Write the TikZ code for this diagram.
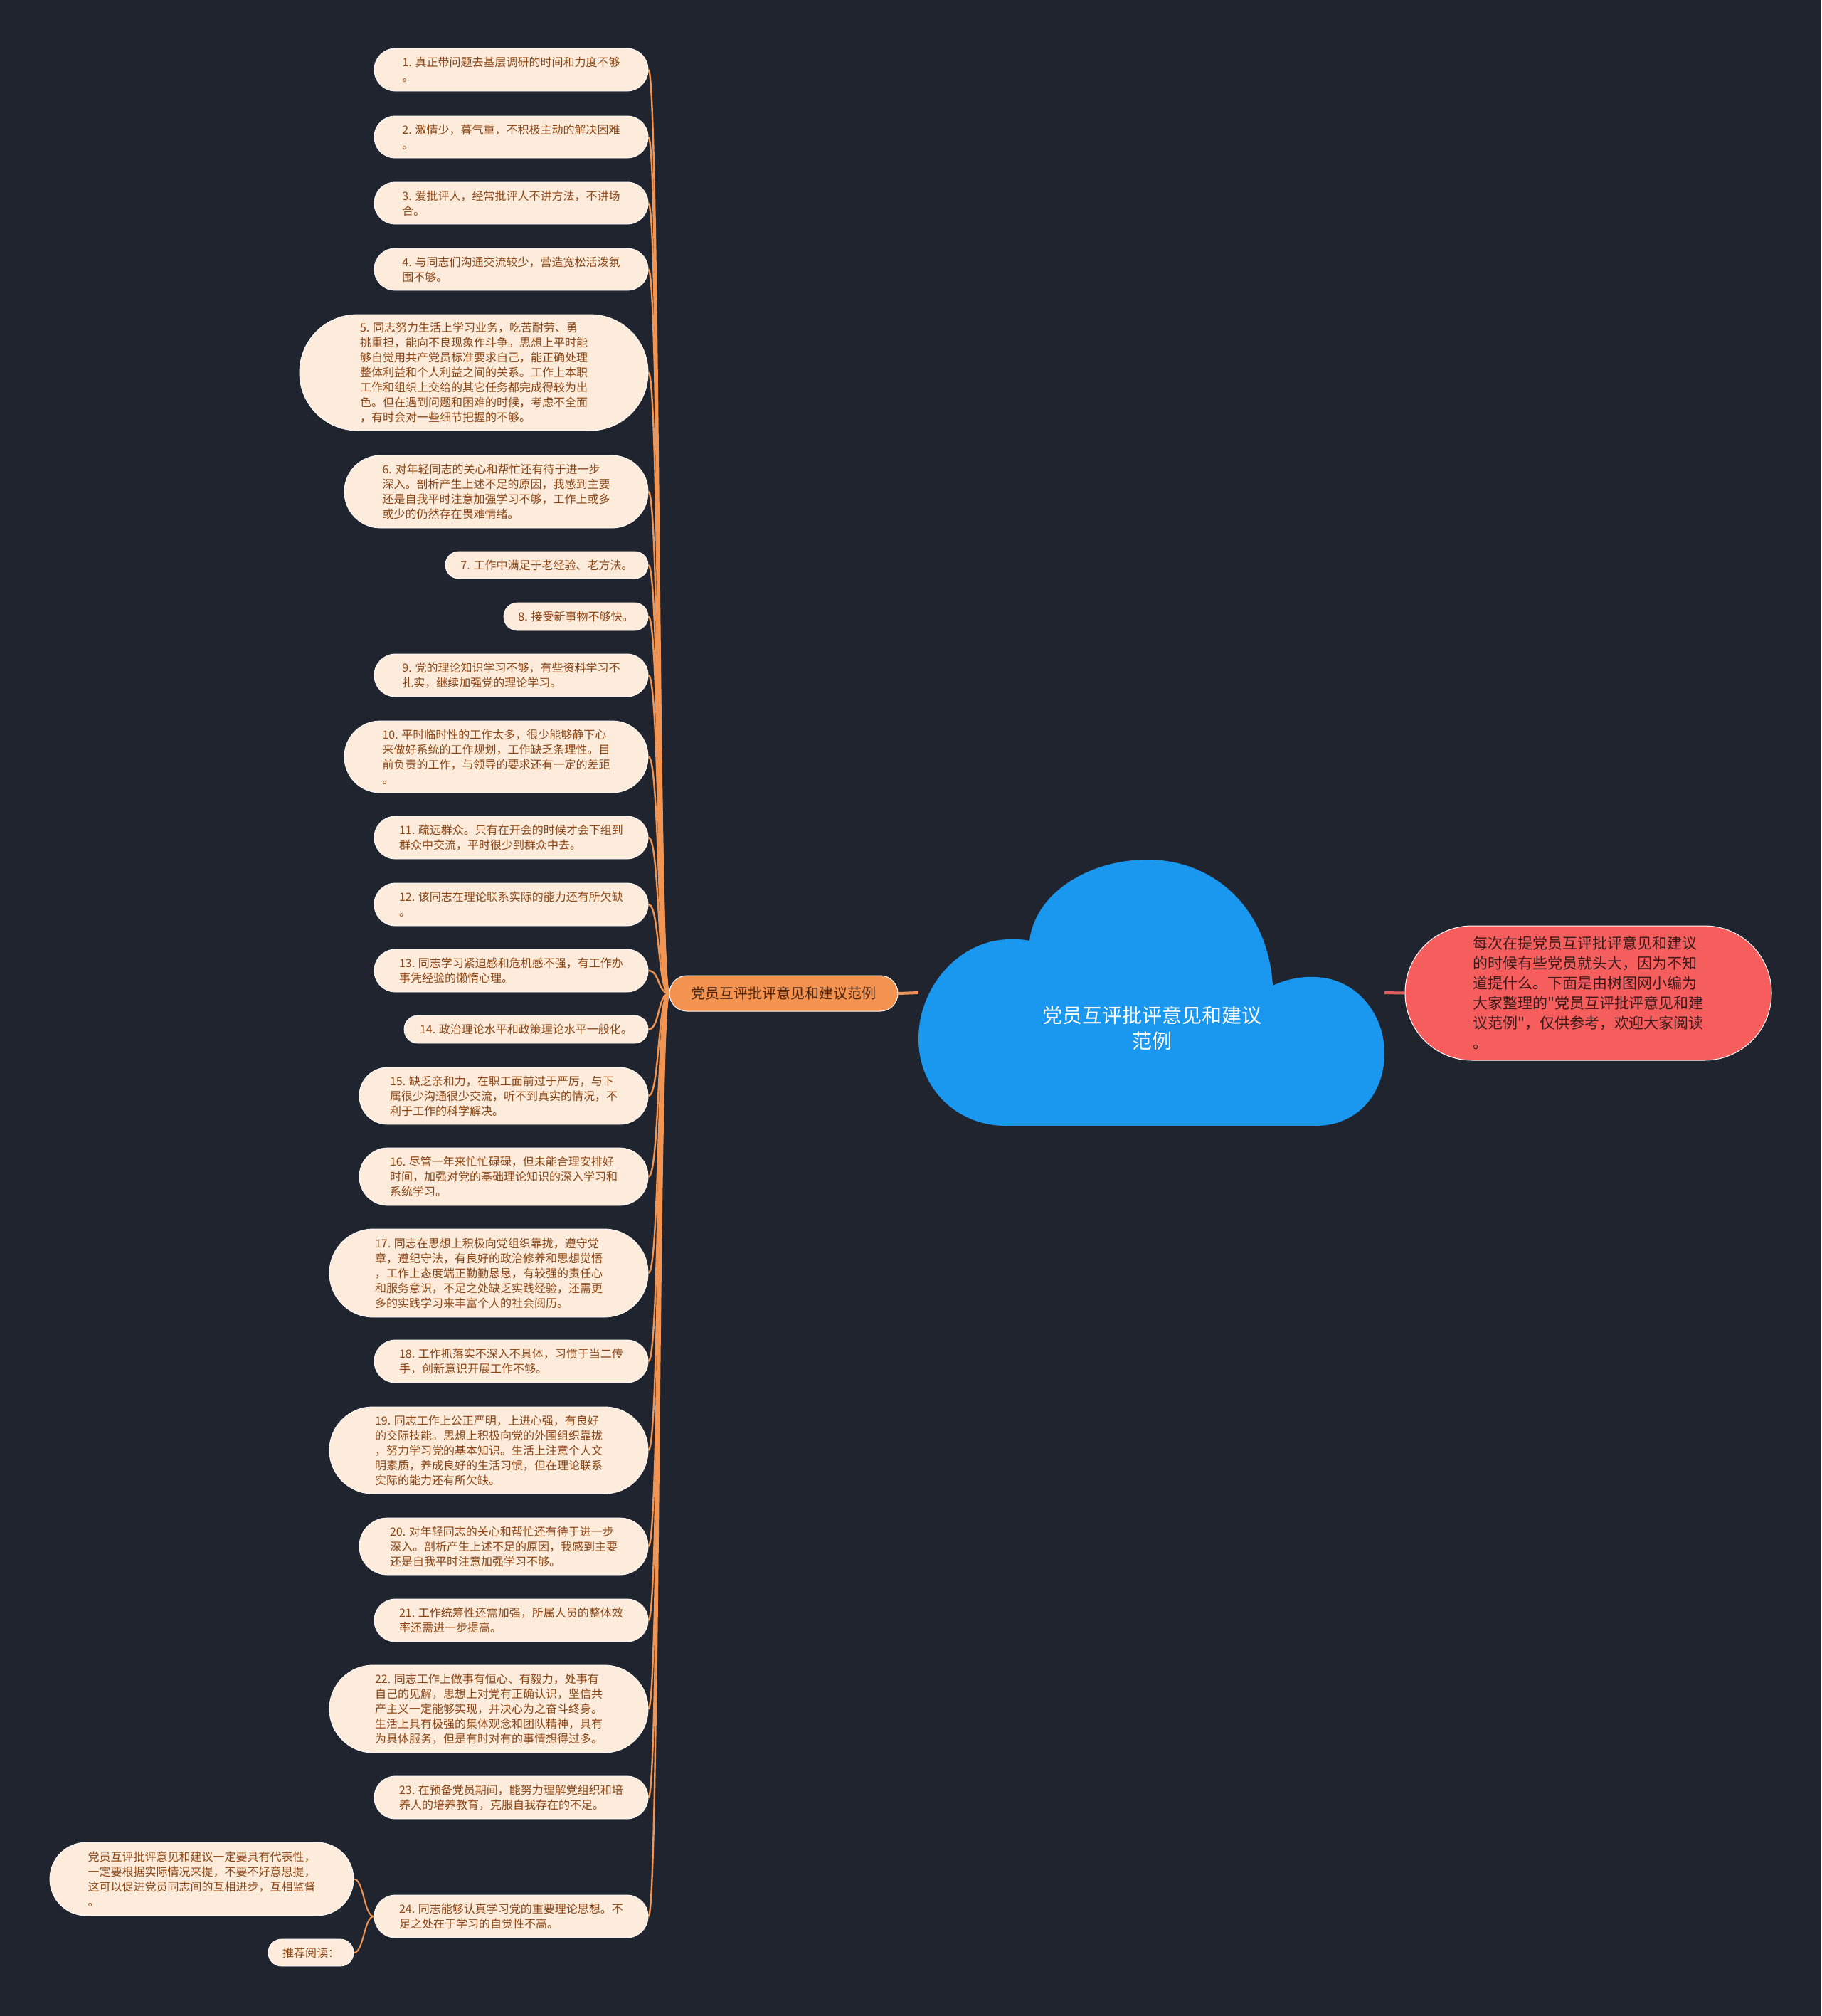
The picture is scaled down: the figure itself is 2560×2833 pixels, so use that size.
\documentclass[tikz,border=0pt]{standalone}
\usepackage{fontspec}
\setmainfont{Noto Sans CJK SC}[Ligatures=TeXOff]
\usetikzlibrary{calc}
\definecolor{bgcol}{HTML}{20242F}
\definecolor{leaffill}{HTML}{FDEBDC}
\definecolor{leaftext}{HTML}{8B4513}
\definecolor{lineorange}{HTML}{F39552}
\definecolor{branchfill}{HTML}{F4934F}
\definecolor{branchtext}{HTML}{4A2512}
\definecolor{cloudblue}{HTML}{1A97EF}
\definecolor{introfill}{HTML}{F65E5E}
\definecolor{introtext}{HTML}{3A1A1A}
\definecolor{linered}{HTML}{E5605C}
\pgfdeclarelayer{back}
\pgfsetlayers{back,main}
\tikzset{
  pill/.style={rectangle, minimum height={#1}, rounded corners={(#1)/2-0.3}},
  leafbox/.style={fill=leaffill, draw=white, line width=0.8, text=leaftext, inner sep=0, align=left, font=\fontsize{16}{21}\selectfont},
  leafline/.style={draw=lineorange, line width=2.4},
}
\newcommand\leafnode[5]{\node[leafbox, minimum width={911-#2}, pill={#4-#3}] (#1) at ({(#2+911)/2},{(#3+#4)/2}) {#5};}
\begin{document}
\begin{tikzpicture}[x=1pt,y=-1pt]
\useasboundingbox (0,0) rectangle (2560,2833);
\begin{pgfonlayer}{back}
\fill[bgcol] (0,0) rectangle (2560,2833);
\end{pgfonlayer}

% cloud
\fill[cloudblue] (1447,1322) .. controls (1455,1255) and (1530,1208) .. (1613,1208)
  .. controls (1705,1208) and (1782,1275) .. (1789,1385)
  .. controls (1808,1376) and (1828,1372) .. (1850,1373)
  .. controls (1910,1376) and (1946,1428) .. (1946,1480)
  .. controls (1946,1540) and (1905,1582) .. (1850,1582)
  -- (1414,1582)
  .. controls (1345,1582) and (1291,1530) .. (1291,1460)
  .. controls (1291,1385) and (1350,1320) .. (1420,1320)
  .. controls (1430,1320) and (1440,1320) .. (1447,1322) -- cycle;
\node[minimum width=655, minimum height=374, inner sep=0] (root) at (1618.5,1395) {};
\node[text=white, align=center, font=\fontsize{28}{36}\selectfont, inner sep=0] (roottext) at (1619,1445) {党员互评批评意见和建议\\范例};

% intro
\node[fill=introfill, draw=white, line width=1, text=introtext, align=left, inner sep=0,
  minimum width=515, pill=189, font=\fontsize{21}{28}\selectfont] (intro) at (2232.5,1395.5)
  {每次在提党员互评批评意见和建议\\的时候有些党员就头大，因为不知\\道提什么。下面是由树图网小编为\\大家整理的"党员互评批评意见和建\\议范例"，仅供参考，欢迎大家阅读\\。};

% branch
\node[fill=branchfill, draw=white, line width=1, text=branchtext, inner sep=0,
  minimum width=321, pill=50, font=\fontsize{20}{24}\selectfont] (branch) at (1101.5,1396) {党员互评批评意见和建议范例};

% leaves
\leafnode{l1}{526}{68}{128}{1. 真正带问题去基层调研的时间和力度不够\\。}
\leafnode{l2}{526}{163}{222}{2. 激情少，暮气重，不积极主动的解决困难\\。}
\leafnode{l3}{526}{256}{315}{3. 爱批评人，经常批评人不讲方法，不讲场\\合。}
\leafnode{l4}{526}{349}{408}{4. 与同志们沟通交流较少，营造宽松活泼氛\\围不够。}
\leafnode{l5}{421}{442}{605}{5. 同志努力生活上学习业务，吃苦耐劳、勇\\挑重担，能向不良现象作斗争。思想上平时能\\够自觉用共产党员标准要求自己，能正确处理\\整体利益和个人利益之间的关系。工作上本职\\工作和组织上交给的其它任务都完成得较为出\\色。但在遇到问题和困难的时候，考虑不全面\\，有时会对一些细节把握的不够。}
\leafnode{l6}{484}{640}{742}{6. 对年轻同志的关心和帮忙还有待于进一步\\深入。剖析产生上述不足的原因，我感到主要\\还是自我平时注意加强学习不够，工作上或多\\或少的仍然存在畏难情绪。}
\leafnode{l7}{626}{775}{813}{7. 工作中满足于老经验、老方法。}
\leafnode{l8}{708}{847}{886}{8. 接受新事物不够快。}
\leafnode{l9}{526}{919}{979}{9. 党的理论知识学习不够，有些资料学习不\\扎实，继续加强党的理论学习。}
\leafnode{l10}{484}{1013}{1114}{10. 平时临时性的工作太多，很少能够静下心\\来做好系统的工作规划，工作缺乏条理性。目\\前负责的工作，与领导的要求还有一定的差距\\。}
\leafnode{l11}{526}{1147}{1207}{11. 疏远群众。只有在开会的时候才会下组到\\群众中交流，平时很少到群众中去。}
\leafnode{l12}{526}{1241}{1301}{12. 该同志在理论联系实际的能力还有所欠缺\\。}
\leafnode{l13}{526}{1334}{1394}{13. 同志学习紧迫感和危机感不强，有工作办\\事凭经验的懒惰心理。}
\leafnode{l14}{568}{1427}{1466}{14. 政治理论水平和政策理论水平一般化。}
\leafnode{l15}{505}{1500}{1580}{15. 缺乏亲和力，在职工面前过于严厉，与下\\属很少沟通很少交流，听不到真实的情况，不\\利于工作的科学解决。}
\leafnode{l16}{505}{1613}{1694}{16. 尽管一年来忙忙碌碌，但未能合理安排好\\时间，加强对党的基础理论知识的深入学习和\\系统学习。}
\leafnode{l17}{463}{1727}{1851}{17. 同志在思想上积极向党组织靠拢，遵守党\\章，遵纪守法，有良好的政治修养和思想觉悟\\，工作上态度端正勤勤恳恳，有较强的责任心\\和服务意识，不足之处缺乏实践经验，还需更\\多的实践学习来丰富个人的社会阅历。}
\leafnode{l18}{526}{1883}{1943}{18. 工作抓落实不深入不具体，习惯于当二传\\手，创新意识开展工作不够。}
\leafnode{l19}{463}{1977}{2099}{19. 同志工作上公正严明，上进心强，有良好\\的交际技能。思想上积极向党的外围组织靠拢\\，努力学习党的基本知识。生活上注意个人文\\明素质，养成良好的生活习惯，但在理论联系\\实际的能力还有所欠缺。}
\leafnode{l20}{505}{2133}{2213}{20. 对年轻同志的关心和帮忙还有待于进一步\\深入。剖析产生上述不足的原因，我感到主要\\还是自我平时注意加强学习不够。}
\leafnode{l21}{526}{2247}{2307}{21. 工作统筹性还需加强，所属人员的整体效\\率还需进一步提高。}
\leafnode{l22}{463}{2340}{2463}{22. 同志工作上做事有恒心、有毅力，处事有\\自己的见解，思想上对党有正确认识，坚信共\\产主义一定能够实现，并决心为之奋斗终身。\\生活上具有极强的集体观念和团队精神，具有\\为具体服务，但是有时对有的事情想得过多。}
\leafnode{l23}{526}{2496}{2556}{23. 在预备党员期间，能努力理解党组织和培\\养人的培养教育，克服自我存在的不足。}
\leafnode{l24}{526}{2663}{2723}{24. 同志能够认真学习党的重要理论思想。不\\足之处在于学习的自觉性不高。}

% children of leaf 24
\node[leafbox, minimum width=427, pill=103] (tip) at (283.5,2640.5) {党员互评批评意见和建议一定要具有代表性，\\一定要根据实际情况来提，不要不好意思提，\\这可以促进党员同志间的互相进步，互相监督\\。};
\node[leafbox, minimum width=120, pill=38] (rec) at (437,2744) {推荐阅读：};

% connectors
\begin{pgfonlayer}{back}
\draw[draw=lineorange, line width=4] (branch.east) -- (root.west);
\draw[draw=linered, line width=4] (root.east) -- (intro.west);
\foreach \i in {1,...,24} {
  \draw[leafline] (l\i.east) .. controls ($(l\i.east)+(16,0)$) and ($(branch.west)+(-16,0)$) .. (branch.west);
}
\draw[leafline, line width=2] (l24.west) .. controls ($(l24.west)+(-14,0)$) and ($(tip.east)+(14,0)$) .. (tip.east);
\draw[leafline, line width=2] (l24.west) .. controls ($(l24.west)+(-14,0)$) and ($(rec.east)+(14,0)$) .. (rec.east);
\end{pgfonlayer}
\end{tikzpicture}
\end{document}
